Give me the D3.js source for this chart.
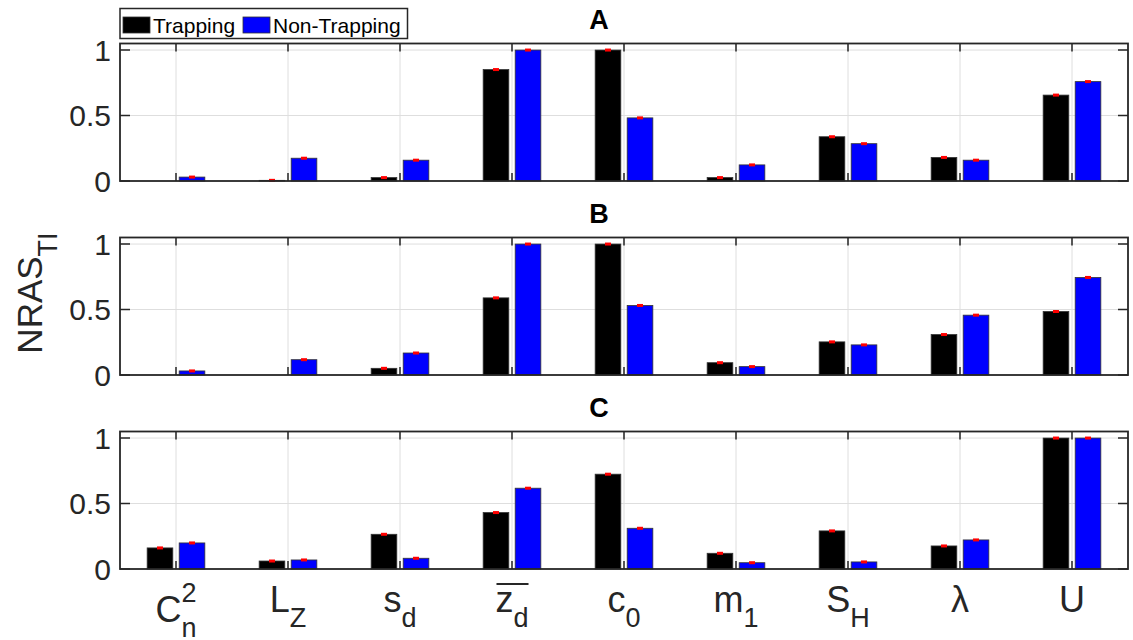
<!DOCTYPE html>
<html lang="en">
<head>
  <meta charset="utf-8">
  <title>NRAS TI</title>
  <script src="https://d3js.org/d3.v7.min.js"></script>
  <style>
    body { margin: 0; background: #fff; }
    text { font-family: "Liberation Sans", Arial, Helvetica, sans-serif; fill: #262626; }
  </style>
</head>
<body>
  <svg width="1133" height="640"></svg>
  <script>
    // categories (main letter, subscript, superscript, overline)
    var paramMain = ["C", "L", "s", "z", "c", "m", "S", "λ", "U"];
    var paramSub  = ["n", "Z", "d", "d", "0", "1", "H", "", ""];
    var paramSup  = ["2", "", "", "", "", "", "", "", ""];
    var paramBar  = [false, false, false, true, false, false, false, false, false];

    var panelNames = ["A", "B", "C"];
    var series = ["Trapping", "Non-Trapping"];

    // values
    var trapA = [0, 0.005, 0.026, 0.851, 1.0, 0.026, 0.338, 0.180, 0.656];
    var nonA  = [0.030, 0.174, 0.159, 1.0, 0.482, 0.123, 0.285, 0.159, 0.759];
    var trapB = [0, 0, 0.051, 0.589, 1.0, 0.094, 0.253, 0.309, 0.485];
    var nonB  = [0.031, 0.117, 0.168, 1.0, 0.531, 0.064, 0.230, 0.457, 0.745];
    var trapC = [0.161, 0.061, 0.265, 0.431, 0.724, 0.120, 0.291, 0.176, 1.0];
    var nonC  = [0.199, 0.069, 0.082, 0.617, 0.311, 0.048, 0.054, 0.222, 1.0];

    var yTicks = [0, 0.5, 1];

    var panels = [[trapA, nonA], [trapB, nonB], [trapC, nonC]];

    var svg = d3.select("svg");
    var left = 120, right = 1128;
    var panelTop = [43.5, 237.5, 431.5], panelH = 137.5;
    var colors = ["#000000", "#0000ff"];
    var axisColor = "#262626", gridColor = "#dedede";

    var x = d3.scaleLinear().domain([0.5, 9.5]).range([left, right]);
    // grouped bar offsets (MATLAB style)
    var offs = [-0.143, 0.143], barW = 0.229;

    panels.forEach(function(pd, p) {
      var top = panelTop[p];
      var y = d3.scaleLinear().domain([0, 1.05]).range([top + panelH, top]);
      var g = svg.append("g");

      // grid
      g.selectAll(".gx").data(paramMain).enter().append("line")
        .attr("x1", (d, i) => x(i + 1)).attr("x2", (d, i) => x(i + 1))
        .attr("y1", top).attr("y2", top + panelH)
        .attr("stroke", gridColor).attr("stroke-width", 1);
      g.selectAll(".gy").data(yTicks.slice(1)).enter().append("line")
        .attr("x1", left).attr("x2", right)
        .attr("y1", d => y(d)).attr("y2", d => y(d))
        .attr("stroke", gridColor).attr("stroke-width", 1);

      // bars
      pd.forEach(function(vals, s) {
        g.selectAll(".bar" + s).data(vals).enter().append("rect")
          .attr("x", (d, i) => x(i + 1 + offs[s] - barW / 2))
          .attr("width", x(barW) - x(0))
          .attr("y", d => y(d))
          .attr("height", d => y(0) - y(d))
          .attr("fill", colors[s])
          .attr("stroke", d => d > 0 ? "#333" : "none")
          .attr("stroke-width", 0.8);
      });
      // error bar markers
      pd.forEach(function(vals, s) {
        vals.forEach(function(v, i) {
          if (v <= 0) return;
          g.append("line")
            .attr("x1", x(i + 1 + offs[s]) - 3).attr("x2", x(i + 1 + offs[s]) + 3)
            .attr("y1", y(v)).attr("y2", y(v))
            .attr("stroke", "#ff0000").attr("stroke-width", 3);
        });
      });

      // ticks on x (top and bottom, inward)
      g.selectAll(".tx").data(paramMain).enter().append("path")
        .attr("d", (d, i) => "M" + x(i + 1) + "," + (top + panelH) + "v-8M" + x(i + 1) + "," + top + "v8")
        .attr("stroke", axisColor).attr("stroke-width", 1.5).attr("fill", "none");
      // ticks on y (left and right, inward)
      g.selectAll(".ty").data(yTicks).enter().append("path")
        .attr("d", d => "M" + left + "," + y(d) + "h10M" + right + "," + y(d) + "h-10")
        .attr("stroke", axisColor).attr("stroke-width", 1.5).attr("fill", "none");

      // box
      g.append("rect")
        .attr("x", left).attr("y", top).attr("width", right - left).attr("height", panelH)
        .attr("fill", "none").attr("stroke", axisColor).attr("stroke-width", 1.8);

      // y tick labels
      g.selectAll(".yl").data(yTicks).enter().append("text")
        .attr("x", left - 9).attr("y", d => y(d))
        .attr("dy", "0.36em")
        .attr("text-anchor", "end")
        .style("font-size", "30px")
        .text(d => d3.format("~g")(d));

      // title
      g.append("text")
        .attr("x", 599).attr("y", top - 15)
        .attr("text-anchor", "middle")
        .style("font-size", "27px").style("font-weight", "bold")
        .style("fill", "#000")
        .text(panelNames[p]);
    });

    // x tick labels
    paramMain.forEach(function(m, i) {
      var base = paramSup[i] ? 622 : 612;
      var t = svg.append("text")
        .attr("x", x(i + 1)).attr("y", base)
        .attr("text-anchor", "middle")
        .style("font-size", "36px");
      t.append("tspan").text(m);
      if (paramSup[i]) {
        t.append("tspan").style("font-size", "27px").attr("dy", -20).text(paramSup[i]);
        t.append("tspan").style("font-size", "27px").attr("dx", "-0.556em").attr("dy", 35).text(paramSub[i]);
      } else if (paramSub[i]) {
        t.append("tspan").style("font-size", "27px").attr("dy", 15).text(paramSub[i]);
      }
      if (paramBar[i]) {
        var bb = t.node().getBBox();
        svg.append("line")
          .attr("x1", bb.x + 1).attr("x2", bb.x + bb.width)
          .attr("y1", 584).attr("y2", 584)
          .attr("stroke", axisColor).attr("stroke-width", 2);
      }
    });

    // y axis label
    var yl = svg.append("text")
      .attr("transform", "translate(42,293) rotate(-90)")
      .attr("text-anchor", "middle")
      .style("font-size", "35px");
    yl.append("tspan").text("NRAS");
    yl.append("tspan").style("font-size", "27px").attr("dy", 15).text("TI");

    // legend
    var lg = svg.append("g");
    lg.append("rect").attr("x", 120).attr("y", 8.5).attr("width", 287.5).attr("height", 30)
      .attr("fill", "#fff").attr("stroke", axisColor).attr("stroke-width", 1.5);
    var lx = [123, 243];
    series.forEach(function(s, k) {
      lg.append("rect").attr("x", lx[k]).attr("y", 17).attr("width", 27).attr("height", 16)
        .attr("fill", colors[k]).attr("stroke", "#333").attr("stroke-width", 0.8);
      lg.append("text").attr("x", lx[k] + 30).attr("y", 25).attr("dy", "0.36em")
        .style("font-size", "21px").style("fill", "#000").text(s);
    });
  </script>
</body>
</html>
